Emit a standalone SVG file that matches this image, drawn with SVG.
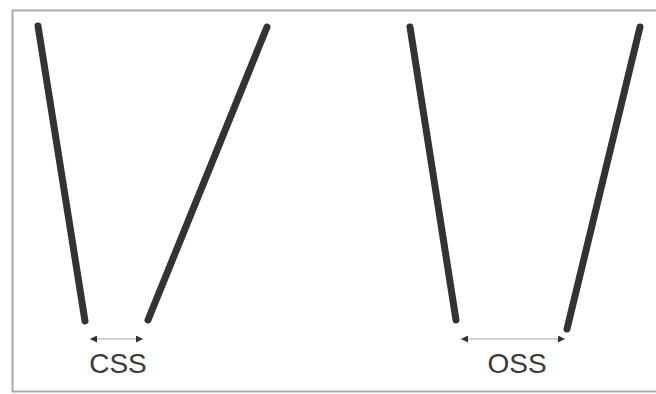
<svg xmlns="http://www.w3.org/2000/svg" width="656" height="394" viewBox="0 0 656 394">
<style>
.bar{stroke:#333;stroke-width:7;stroke-linecap:round;fill:none}
.arr{stroke:#c4c4c4;stroke-width:1.3;fill:none}
.lbl{font-family:"Liberation Sans",Arial,sans-serif;font-size:28px;fill:#3a3a3a;text-anchor:middle}
</style>
<defs>
<marker id="ah" viewBox="0 0 10 10" refX="10" refY="5" markerWidth="12" markerHeight="7" markerUnits="userSpaceOnUse" orient="auto-start-reverse">
<path d="M0,0 L10,5 L0,10 z" fill="#333"/>
</marker>
</defs>
<rect x="12.5" y="10.5" width="660" height="381" fill="#fff" stroke="#aaa" stroke-width="2"/>
<g id="css">
<line class="bar" x1="38" y1="26" x2="85" y2="321"/>
<line class="bar" x1="267" y1="27" x2="148" y2="320"/>
<text class="lbl" x="118" y="373">CSS</text>
</g>
<g id="oss">
<line class="bar" x1="410" y1="27" x2="456" y2="320"/>
<line class="bar" x1="640" y1="27" x2="567" y2="329"/>
<text class="lbl" x="517" y="373">OSS</text>
</g>
<g id="connectors">
<line class="arr" x1="90" y1="339" x2="143" y2="339" marker-start="url(#ah)" marker-end="url(#ah)"/>
<line class="arr" x1="461" y1="339" x2="565" y2="339" marker-start="url(#ah)" marker-end="url(#ah)"/>
</g>
</svg>
